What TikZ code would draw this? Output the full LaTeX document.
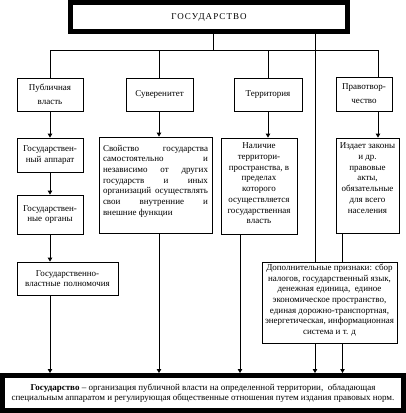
\documentclass[tikz,border=0pt]{standalone}
\usepackage{fontspec}
\setmainfont{Liberation Serif}
\usetikzlibrary{arrows.meta}
\newcommand\tbx[4]{\begin{minipage}[c][#2][t]{#1}\vspace*{#3}#4\end{minipage}}
\begin{document}
\begin{tikzpicture}[x=1pt,y=-1pt,
  ln/.style={line width=0.8pt},
  arr/.style={ln,-{Triangle[width=4.5pt,length=4pt]}},
  box/.style={draw,line width=0.8pt,inner sep=0pt,align=center,font=\fontsize{9}{10.7}\selectfont},
  rowbox/.style={box,font=\fontsize{9}{14}\selectfont},
  heavy/.style={draw,line width=5pt,inner sep=0pt,align=center}]
\useasboundingbox (0,0) rectangle (406,413);

% top
\node[heavy,minimum width=277pt,minimum height=29pt,
  font=\fontsize{9}{10}\selectfont\addfontfeature{LetterSpace=12}] (top) at (209,17) {ГОСУДАРСТВО};

% row 1
\node[rowbox,minimum width=66pt,minimum height=33pt,text width=60pt] (pv) at (50,94.5) {Публичная\\власть};
\node[rowbox,minimum width=67pt,minimum height=33pt,text width=61pt] (suv) at (159.5,94.5) {Суверенитет};
\node[rowbox,minimum width=68pt,minimum height=33pt,text width=62pt] (ter) at (268,94.5) {Территория};
\node[rowbox,minimum width=56pt,minimum height=34pt,text width=52pt] (prav) at (364,94) {Правотвор-\\чество};

% row 2
\node[box,minimum width=66pt,minimum height=34pt,text width=62pt] (app) at (50,155) {Государствен-\\ный аппарат};
\node[box,minimum width=113pt,minimum height=96pt] (svoj) at (155.5,185)
  {\tbx{105pt}{96pt}{8pt}{\hyphenpenalty=10000 Свойство государства\linebreak самостоятельно и\linebreak независимо от других\linebreak государств и иных\linebreak организаций осуществлять\linebreak свои внутренние и\linebreak внешние функции}};
\node[box,minimum width=76pt,minimum height=96pt] (nal) at (259,186)
  {\tbx{72pt}{96pt}{5pt}{\centering Наличие\\территори-\\пространства, в\\пределах\\которого\\осуществляется\\государственная\\власть}};
\node[box,minimum width=63pt,minimum height=95pt] (izd) at (367.5,185.5)
  {\tbx{60pt}{95pt}{5pt}{\centering Издает законы\\и др.\\правовые\\акты,\\обязательные\\для всего\\населения}};

% row 3
\node[box,minimum width=66pt,minimum height=39pt,text width=62pt] (org) at (50,214.5) {Государствен-\\ные органы};
\node[box,minimum width=101pt,minimum height=33pt,text width=97pt] (pol) at (67.5,278.5) {Государственно-\\властные полномочия};
\node[box,minimum width=135pt,minimum height=81pt] (dop) at (329.5,302.5)
  {\tbx{131pt}{81pt}{2pt}{\centering Дополнительные признаки: сбор\\налогов, государственный язык,\\денежная единица,\ \ единое\\экономическое пространство,\\единая дорожно-транспортная,\\энергетическая, информационная\\система и т. д}};

% bottom
\node[heavy,minimum width=401pt,minimum height=35pt,font=\fontsize{9}{9.5}\selectfont] (bot) at (203,393)
  {\textbf{Государство} – организация публичной власти на определенной территории,\ \ обладающая\\специальным аппаратом и регулирующая общественные отношения путем издания правовых норм.};

% column coordinates
\coordinate (b50) at (50,50);
\coordinate (b159) at (159,50);
\coordinate (b213) at (213,50);
\coordinate (b240) at (240,50);
\coordinate (b268) at (268,50);
\coordinate (b315) at (315,50);
\coordinate (b343) at (342.5,50);
\coordinate (b378) at (378,50);

% bus
\draw[ln] (b50) -- (b378);
\draw[ln] (top.south -| b213) -- (b213);
\draw[ln] (b50) -- (pv.north -| b50);
\draw[ln] (b159) -- (suv.north -| b159);
\draw[ln] (b268) -- (ter.north -| b268);
\draw[ln] (b378) -- (prav.north -| b378);
\draw[ln] (top.south -| b315) -- (dop.north -| b315);

% arrows
\draw[arr] (pv.south -| b50) -- (app.north -| b50);
\draw[arr] (app.south -| b50) -- (org.north -| b50);
\draw[arr] (org.south -| b50) -- (pol.north -| b50);
\draw[arr] (pol.south -| b50) -- (bot.north -| b50);
\draw[arr] (suv.south -| b159) -- (svoj.north -| b159);
\draw[arr] (svoj.south -| b159) -- (bot.north -| b159);
\draw[arr] (ter.south -| b268) -- (nal.north -| b268);
\draw[arr] (nal.south -| b240) -- (bot.north -| b240);
\draw[arr] (prav.south -| b378) -- (izd.north -| b378);
\draw[ln] (izd.south -| b343) -- (dop.north -| b343);
\draw[arr] (dop.south -| b343) -- (bot.north -| b343);
\draw[arr] (dop.south -| b315) -- (bot.north -| b315);
\end{tikzpicture}
\end{document}
